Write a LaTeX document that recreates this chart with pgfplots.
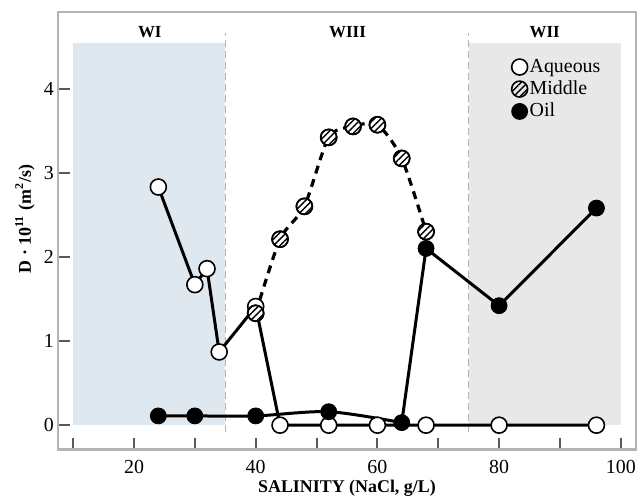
\documentclass[border=0pt]{standalone}
\usepackage{fontspec}
\setmainfont{Liberation Serif}
\usepackage{pgfplots}
\pgfplotsset{compat=1.18}
\usetikzlibrary{patterns.meta}
\definecolor{wiblue}{HTML}{DFE8EF}
\definecolor{wiigray}{HTML}{E8E8E8}
\definecolor{framegray}{HTML}{B4B4B4}
\definecolor{tickgray}{HTML}{5A5A5A}
\pgfplotstableread{
x y
24 2.83
30 1.67
32 1.86
34 0.87
40 1.41
44 0
52 0
60 0
68 0
80 0
96 0
}\aqueous
\pgfplotstableread{
x y
40 1.33
44 2.21
48 2.60
52 3.42
56 3.55
60 3.57
64 3.17
68 2.30
}\middlephase
\pgfplotstableread{
x y
24 0.11
30 0.11
40 0.11
52 0.16
64 0.03
}\oilA
\pgfplotstableread{
x y
64 0.03
68 2.10
80 1.42
96 2.58
}\oilB
\pgfplotstableread{
x y
24 0.11
30 0.11
40 0.11
52 0.16
64 0.03
68 2.10
80 1.42
96 2.58
}\oil
\pgfplotstableread{
x y
10 4.54
35 4.54
}\regionWI
\pgfplotstableread{
x y
75 4.54
100 4.54
}\regionWII
\begin{document}
\begin{tikzpicture}
\begin{axis}[
  name=ax,
  scale only axis,
  width=289.3bp, height=219bp,
  xmin=7.5, xmax=102.5,
  ymin=-0.29, ymax=4.91,
  axis line style={draw=framegray, line width=1.4bp},
  xtick={10,20,...,100},
  xticklabels={,20,,40,,60,,80,,100},
  ytick={0,1,2,3,4},
  tick style={draw=tickgray, line width=1bp},
  major tick length=6bp,
  tick align=inside,
  xtick pos=bottom, ytick pos=left,
  /pgf/number format/assume math mode=true,
  tick label style={font=\fontsize{10}{12}\selectfont},
  xticklabel style={yshift=-2bp},
  yticklabel style={xshift=1.5bp},
  xlabel={\bfseries SALINITY (NaCl, g/L)},
  ylabel={\bfseries D · 10\textsuperscript{11} (m\textsuperscript{2}/s)},
  xlabel style={at={(axis description cs:0.5,-0.088)}, anchor=center, font=\fontsize{9}{11}\selectfont},
  ylabel style={at={(axis description cs:-0.057,0.527)}, anchor=center, font=\fontsize{9}{11}\selectfont},
  legend style={at={(axis cs:82.0,4.38)}, anchor=north west, draw=none, fill=none,
    font=\fontsize{10}{11}\selectfont, row sep=0.8bp, inner sep=0pt,
    nodes={inner sep=1pt}},
  legend cell align=left,
  clip=false,
]
% shaded regions
\addplot[fill=wiblue, draw=none, forget plot] table {\regionWI} \closedcycle;
\addplot[fill=wiigray, draw=none, forget plot] table {\regionWII} \closedcycle;
% dashed separators
\addplot[draw=framegray, line width=0.6bp, dash pattern=on 3.5bp off 2bp, forget plot] coordinates {(35,-0.08) (35,4.66)};
\addplot[draw=framegray, line width=0.6bp, dash pattern=on 3.5bp off 2bp, forget plot] coordinates {(75,-0.08) (75,4.66)};
% region labels
\node[font=\bfseries\fontsize{8.5}{10}\selectfont] at (axis cs:22.6,4.67) {WI};
\node[font=\bfseries\fontsize{8.5}{10}\selectfont] at (axis cs:55.1,4.67) {WIII};
\node[font=\bfseries\fontsize{8.5}{10}\selectfont] at (axis cs:87.5,4.67) {WII};
% oil lines
\addplot[black, line width=1.5bp, smooth, tension=0.5, no marks, forget plot] table {\oilA};
\addplot[black, line width=1.5bp, no marks, forget plot] table {\oilB};
% middle line
\addplot[black, line width=1.6bp, dash pattern=on 4bp off 3bp, smooth, tension=0.45, no marks, forget plot] table {\middlephase};
% aqueous line and marks
\addplot[black, line width=1.5bp, mark=*, mark size=4bp, mark options={solid, fill=white, draw=black, line width=0.8bp}, forget plot] table {\aqueous};
% middle marks
\addplot[only marks, mark=*, mark size=4bp, mark options={fill=white, draw=black, line width=0.8bp}, forget plot] table {\middlephase};
\addplot[only marks, mark=*, mark size=4bp, mark options={pattern={Lines[angle=45, distance=2.3bp, line width=0.7bp]}, draw=black, line width=0.8bp}, forget plot] table {\middlephase};
% oil marks
\addplot[only marks, mark=*, mark size=4bp, mark options={fill=black, draw=black}, forget plot] table {\oil};
% legend
\addlegendimage{only marks, mark=*, mark size=4bp, mark options={fill=white, draw=black, line width=0.8bp}}
\addlegendentry{Aqueous}
\addlegendimage{only marks, mark=*, mark size=4bp, mark options={pattern={Lines[angle=45, distance=2.3bp, line width=0.7bp]}, draw=black, line width=0.8bp}}
\addlegendentry{Middle}
\addlegendimage{only marks, mark=*, mark size=4bp, mark options={fill=black, draw=black}}
\addlegendentry{Oil}
\end{axis}
\pgfresetboundingbox
\path (ax.south west) ++(-29bp,-25bp) coordinate (bbA);
\path (ax.north east) ++(1bp,6bp) coordinate (bbB);
\path (bbA) rectangle (bbB);
\end{tikzpicture}
\end{document}
